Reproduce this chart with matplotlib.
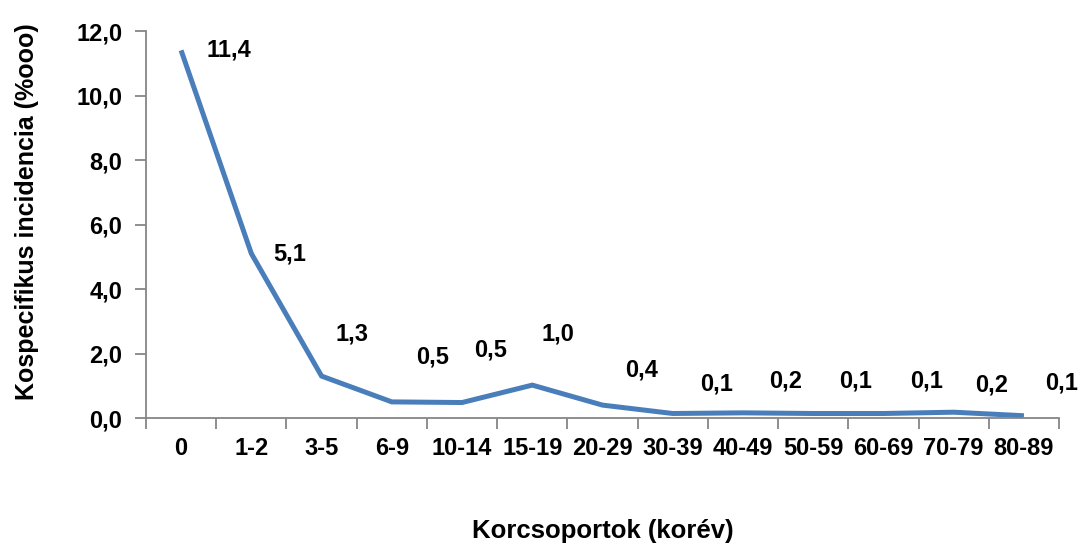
import numpy as np
import matplotlib
matplotlib.use("Agg")
import matplotlib.pyplot as plt

plt.rcParams['font.family'] = ['Liberation Sans', 'DejaVu Sans']
plt.rcParams['font.weight'] = 'bold'

# age groups and age-specific incidence (per 10 000)
age_groups = ['0', '1-2', '3-5', '6-9', '10-14', '15-19', '20-29',
              '30-39', '40-49', '50-59', '60-69', '70-79', '80-89']
incidence = [11.4, 5.1, 1.3, 0.5, 0.48, 1.02, 0.4, 0.14, 0.16, 0.14, 0.14, 0.18, 0.07]

# label placement (manually moved labels as in the original)
label_dx = [0.68, 0.55, 0.44, 0.58, 0.41, 0.36, 0.56, 0.63, 0.61, 0.61, 0.61, 0.54, 0.54]
label_y = [11.4, 5.1, 2.6, 1.9, 2.1, 2.6, 1.5, 1.05, 1.15, 1.15, 1.15, 1.02, 1.1]

line_col = '#4A7EBB'
axis_col = '#868686'

fig = plt.figure(figsize=(10.79, 5.44), dpi=100)
ax = fig.add_axes([0.1353, 0.2316, 0.9815 - 0.1353, 0.943 - 0.2316])

x = np.arange(len(age_groups))
ax.plot(x, incidence, color=line_col, lw=3.6, solid_capstyle='butt', solid_joinstyle='miter')

for i, v in enumerate(incidence):
    ax.text(i + label_dx[i], label_y[i], f'{v:.1f}'.replace('.', ','),
            ha='center', va='center', fontsize=17, fontweight='bold')

ax.set_xlim(-0.5, len(age_groups) - 0.5)
ax.set_ylim(0, 12)
ax.set_yticks(np.arange(0, 12.1, 2))
ax.set_yticklabels([f'{t:.1f}'.replace('.', ',') for t in np.arange(0, 12.1, 2)])
ax.set_xticks(np.arange(-0.5, len(age_groups)), labels=[''] * (len(age_groups) + 1))
ax.set_xticks(x, labels=age_groups, minor=True)

ax.tick_params(axis='x', which='major', length=8, color=axis_col, direction='out', width=1.3)
ax.tick_params(axis='x', which='minor', length=0, pad=14, labelsize=17)
ax.tick_params(axis='y', length=8, color=axis_col, direction='out', width=1.3, labelsize=17, pad=9)

for s in ['top', 'right']:
    ax.spines[s].set_visible(False)
for s in ['left', 'bottom']:
    ax.spines[s].set_color(axis_col)
    ax.spines[s].set_linewidth(1.3)

ax.set_xlabel('Korcsoportok (korév)', fontsize=18.5, fontweight='bold', labelpad=42)
ax.set_ylabel('Kospecifikus incidencia (%ooo)', fontsize=18, fontweight='bold')
ax.yaxis.set_label_coords(-0.117, 0.532)

fig.savefig('out.png', dpi=100)
